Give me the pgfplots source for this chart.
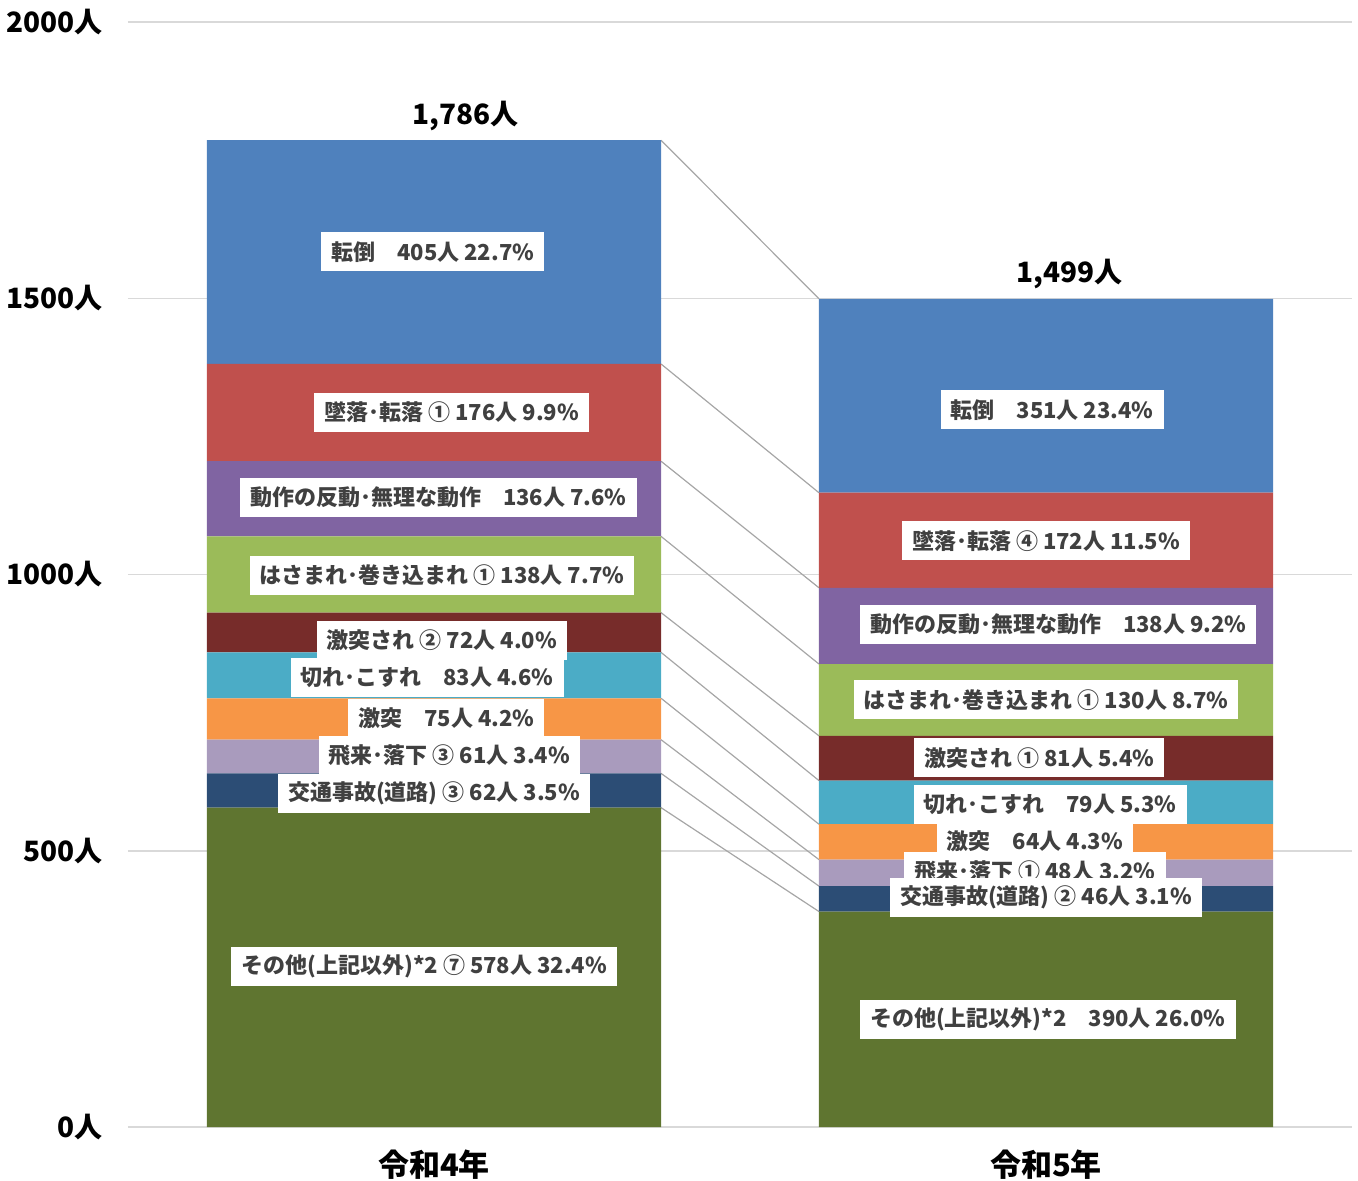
\documentclass[border=0pt]{standalone}
\usepackage{pgfplots}
\pgfplotsset{compat=1.18}
\usepackage{fontspec}
\setmainfont{Noto Sans CJK JP}
\definecolor{cTento}{HTML}{4F81BD}
\definecolor{cTsui}{HTML}{C0504D}
\definecolor{cDosa}{HTML}{8064A2}
\definecolor{cHasa}{HTML}{9BBB59}
\definecolor{cGekiS}{HTML}{772C2A}
\definecolor{cKire}{HTML}{4BACC6}
\definecolor{cGeki}{HTML}{F79646}
\definecolor{cHirai}{HTML}{A99BBD}
\definecolor{cKotsu}{HTML}{2C4D75}
\definecolor{cOther}{HTML}{5F7530}
\definecolor{txt}{HTML}{404040}
\definecolor{gridc}{HTML}{D9D9D9}
\definecolor{conn}{HTML}{A6A6A6}
\begin{document}
\begin{tikzpicture}
\pgfplotsset{
  base/.style={
    scale only axis, width=612pt, height=552.5pt,
    xmin=-0.5, xmax=1.5, ymin=0, ymax=2000,
    axis line style={draw=none}, major tick length=0pt,
    clip=false}
}
\tikzset{lab/.style={fill=white, text=txt, font=\fontsize{11}{13}\selectfont\bfseries,
    inner xsep=5pt, inner ysep=0pt, minimum height=19.5pt}}
% grid, ticks and connectors
\begin{axis}[base, name=g,
    ymajorgrids, grid style={gridc, line width=0.75pt},
    ytick={0,500,1000,1500,2000},
    yticklabels={0人,500人,1000人,1500人,2000人},
    yticklabel style={font=\fontsize{14}{16}\selectfont\bfseries, xshift=-9pt},
    xtick={0,1}, xticklabels={令和4年,令和5年},
    xticklabel style={font=\fontsize{15.5}{17}\selectfont\bfseries, yshift=-8pt}]
\addplot[conn, line width=0.6pt] coordinates {(0.371,1786) (0.629,1499)};
\addplot[conn, line width=0.6pt] coordinates {(0.371,1381) (0.629,1148)};
\addplot[conn, line width=0.6pt] coordinates {(0.371,1205) (0.629,976)};
\addplot[conn, line width=0.6pt] coordinates {(0.371,1069) (0.629,838)};
\addplot[conn, line width=0.6pt] coordinates {(0.371,931) (0.629,708)};
\addplot[conn, line width=0.6pt] coordinates {(0.371,859) (0.629,627)};
\addplot[conn, line width=0.6pt] coordinates {(0.371,776) (0.629,548)};
\addplot[conn, line width=0.6pt] coordinates {(0.371,701) (0.629,484)};
\addplot[conn, line width=0.6pt] coordinates {(0.371,640) (0.629,436)};
\addplot[conn, line width=0.6pt] coordinates {(0.371,578) (0.629,390)};
\end{axis}
% stacked bars
\begin{axis}[base, ybar stacked, bar width=0.742,
    xtick=\empty, ytick=\empty]
\addplot[fill=cOther, draw=none] coordinates {(0,578) (1,390)};
\addplot[fill=cKotsu, draw=none] coordinates {(0,62) (1,46)};
\addplot[fill=cHirai, draw=none] coordinates {(0,61) (1,48)};
\addplot[fill=cGeki, draw=none] coordinates {(0,75) (1,64)};
\addplot[fill=cKire, draw=none] coordinates {(0,83) (1,79)};
\addplot[fill=cGekiS, draw=none] coordinates {(0,72) (1,81)};
\addplot[fill=cHasa, draw=none] coordinates {(0,138) (1,130)};
\addplot[fill=cDosa, draw=none] coordinates {(0,136) (1,138)};
\addplot[fill=cTsui, draw=none] coordinates {(0,176) (1,172)};
\addplot[fill=cTento, draw=none] coordinates {(0,405) (1,351)};
\end{axis}
% labels
\begin{axis}[base, xtick=\empty, ytick=\empty]
% bar 1
\node[lab] at (axis cs:-0.002,1584) {転倒　405人 22.7\%};
\node[lab] at (axis cs:0.029,1294) {墜落･転落 ① 176人 9.9\%};
\node[lab] at (axis cs:0.007,1140) {動作の反動･無理な動作　136人 7.6\%};
\node[lab] at (axis cs:0.013,999) {はさまれ･巻き込まれ ① 138人 7.7\%};
\node[lab] at (axis cs:0.013,881) {激突され ② 72人 4.0\%};
\node[lab] at (axis cs:-0.011,813) {切れ･こすれ　83人 4.6\%};
\node[lab] at (axis cs:0.020,740) {激突　75人 4.2\%};
\node[lab] at (axis cs:0.025,673) {飛来･落下 ③ 61人 3.4\%};
\node[lab] at (axis cs:0,604) {交通事故(道路) ③ 62人 3.5\%};
\node[lab] at (axis cs:-0.016,291) {その他(上記以外)*2 ⑦ 578人 32.4\%};
% bar 2
\node[lab] at (axis cs:1.010,1298) {転倒　351人 23.4\%};
\node[lab] at (axis cs:1.0,1061) {墜落･転落 ④ 172人 11.5\%};
\node[lab] at (axis cs:1.020,910) {動作の反動･無理な動作　138人 9.2\%};
\node[lab] at (axis cs:1.0,773) {はさまれ･巻き込まれ ① 130人 8.7\%};
\node[lab] at (axis cs:0.989,668) {激突され ① 81人 5.4\%};
\node[lab] at (axis cs:1.007,583) {切れ･こすれ　79人 5.3\%};
\node[lab] at (axis cs:0.982,518) {激突　64人 4.3\%};
\node[lab] at (axis cs:0.982,462) {飛来･落下 ① 48人 3.2\%};
\node[lab] at (axis cs:1.0,416) {交通事故(道路) ② 46人 3.1\%};
\node[lab] at (axis cs:1.003,194) {その他(上記以外)*2　390人 26.0\%};
% totals
\node[font=\fontsize{14}{16}\selectfont\bfseries] at (axis cs:0.051,1830) {1,786人};
\node[font=\fontsize{14}{16}\selectfont\bfseries] at (axis cs:1.039,1544) {1,499人};
\end{axis}
\pgfresetboundingbox
\path ([xshift=-64pt,yshift=-26.5pt]g.south west) rectangle ([xshift=3pt,yshift=11pt]g.north east);
\end{tikzpicture}
\end{document}
